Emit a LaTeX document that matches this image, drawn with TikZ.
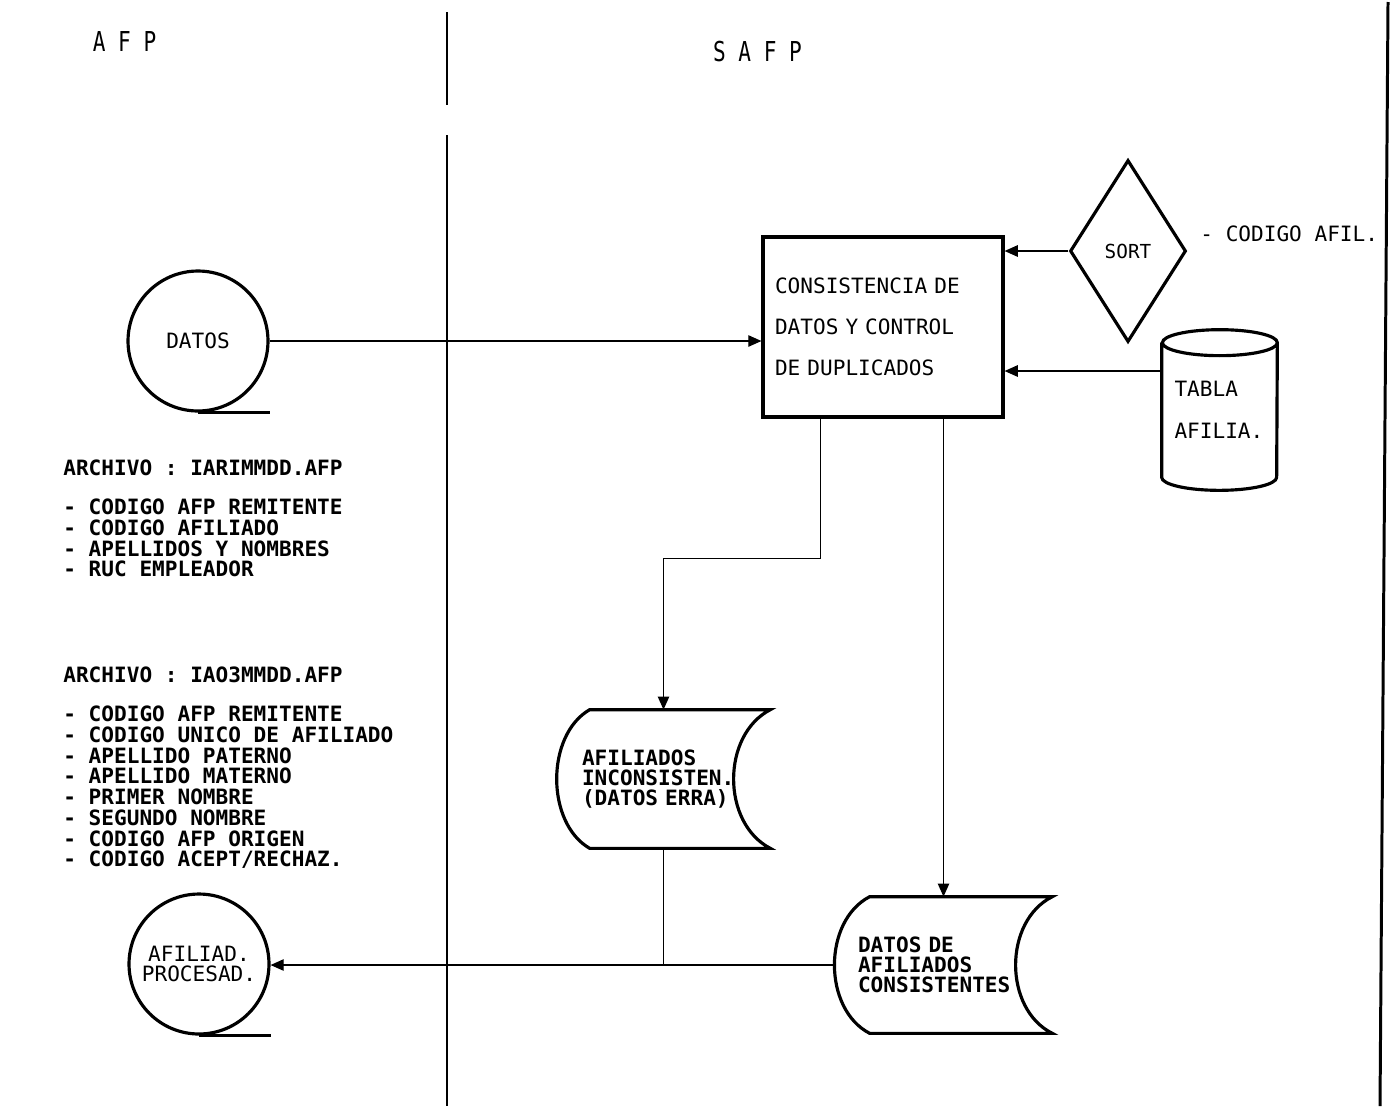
\documentclass[tikz,border=0pt]{standalone}
\usepackage{fontspec}
\usepackage{tikz}
\usetikzlibrary{shapes,arrows.meta,positioning}
\newfontfamily\plotfont{DejaVu Sans Mono}

\begin{document}
\begin{tikzpicture}[x=0.02cm, y=-0.02cm,
                   every node/.style={font=\plotfont\fontsize{12}{11.8}\selectfont, inner sep=0pt},
                   outline/.style={line width=1.8pt},
                   wire/.style={line width=0.8pt},
                   flow/.style={wire, -{Triangle[length=7.5pt,width=6.5pt]}},
                   tape/.style={circle, draw, outline, minimum size=2.8cm, align=center},
                   proc/.style={rectangle, draw, outline, minimum width=4.8cm, minimum height=3.6cm,
                                inner xsep=0.24cm, text width=4.32cm, align=left,
                                font=\plotfont\fontsize{12}{23.2}\selectfont},
                   doc/.style={rectangle, align=left, font=\plotfont\bfseries\fontsize{12}{11.3}\selectfont},
                   list/.style={anchor=north west, align=left, font=\plotfont\bfseries\fontsize{12}{11.8}\selectfont},
                   head/.style={font=\plotfont\fontsize{12}{14}\selectfont}]
  \useasboundingbox (0,0) rectangle (1391,1106);

  \node[head] at (124.5,42) {\scalebox{1}[1.3]{A F P}};
  \node[head] at (757.5,52) {\scalebox{1}[1.3]{S A F P}};
  \draw[line width=1.1pt] (447,12) -- (447,105) (447,135) -- (447,1106);
  \draw[line width=1.7pt] (1388,2) -- (1380,1106);

  \node[tape] (datos) at (198,341) {DATOS};
  \node[tape, font=\plotfont\fontsize{12}{11.4}\selectfont] (procesad) at (199,964) {AFILIAD.\\PROCESAD.};
  \draw[outline] (datos.south) -- (datos.south -| datos.east);
  \draw[outline] (procesad.south) -- (procesad.south -| procesad.east);

  \node[list] (arch1) at (63,459)
    {ARCHIVO : IARIMMDD.AFP\\[10.8pt]
     - CODIGO AFP REMITENTE\\
     - CODIGO AFILIADO\\
     - APELLIDOS Y NOMBRES\\
     - RUC EMPLEADOR};
  \node[list] (arch2) at (63,666)
    {ARCHIVO : IAO3MMDD.AFP\\[10.8pt]
     - CODIGO AFP REMITENTE\\
     - CODIGO UNICO DE AFILIADO\\
     - APELLIDO PATERNO\\
     - APELLIDO MATERNO\\
     - PRIMER NOMBRE\\
     - SEGUNDO NOMBRE\\
     - CODIGO AFP ORIGEN\\
     - CODIGO ACEPT/RECHAZ.};

  \node[proc] (consist) at (883,327) {CONSISTENCIA DE\\DATOS Y CONTROL\\DE DUPLICADOS};
  \node[diamond, draw, outline, minimum width=2.32cm, minimum height=3.64cm, aspect=0.64,
        font=\plotfont\fontsize{11}{12}\selectfont] (sort) at (1128,251) {SORT};
  \node[anchor=west] (codafil) at (1200,234) {- CODIGO AFIL.};

  \node[rectangle, minimum width=2.3cm, minimum height=3.2cm, inner xsep=0.25cm, text width=1.8cm,
        align=left, font=\plotfont\fontsize{12}{23.8}\selectfont] (tabla) at (1219.5,410) {TABLA\\AFILIA.};
  \draw[outline] ([yshift=-0.26cm]tabla.north west) -- ([yshift=0.26cm]tabla.south west)
    arc[start angle=180, end angle=360, x radius=1.15cm, y radius=0.26cm]
    -- ([yshift=-0.26cm]tabla.north east)
    arc[start angle=0, end angle=360, x radius=1.15cm, y radius=0.26cm];

  \node[doc, minimum height=2.76cm, inner xsep=0.5cm, text width=3.26cm] (inc) at (663.5,779)
    {AFILIADOS\\INCONSISTEN.\\(DATOS ERRA)};
  \draw[outline] ([xshift=0.66cm]inc.north west) -- (inc.north east)
    .. controls ([shift={(-0.98cm,0.88cm)}]inc.east) and ([shift={(-0.98cm,-0.88cm)}]inc.east) .. (inc.south east)
    -- ([xshift=0.66cm]inc.south west)
    .. controls ([shift={(-0.22cm,-0.88cm)}]inc.west) and ([shift={(-0.22cm,0.88cm)}]inc.west) .. ([xshift=0.66cm]inc.north west)
    -- cycle;

  \node[doc, minimum height=2.72cm, inner xsep=0.46cm, text width=3.42cm] (consis) at (943.5,965)
    {DATOS DE\\AFILIADOS\\CONSISTENTES};
  \draw[outline] ([xshift=0.7cm]consis.north west) -- (consis.north east)
    .. controls ([shift={(-0.98cm,0.88cm)}]consis.east) and ([shift={(-0.98cm,-0.88cm)}]consis.east) .. (consis.south east)
    -- ([xshift=0.7cm]consis.south west)
    .. controls ([shift={(-0.24cm,-0.88cm)}]consis.west) and ([shift={(-0.24cm,0.88cm)}]consis.west) .. ([xshift=0.7cm]consis.north west)
    -- cycle;

  \coordinate (tin) at ([yshift=0.78cm]tabla.west);
  \draw[flow] (datos.east) -- (datos.east -| consist.west);
  \draw[flow] (sort.west) -- (sort.west -| consist.east);
  \draw[flow] (tin) -- (tin -| consist.east);
  \draw[flow] (consist.south west) ++(59,0) -- ++(0,140) -| (inc.north);
  \draw[flow] (consist.south -| consis.north) -- (consis.north);
  \draw[wire] (inc.south) -- (inc.south |- consis.west);
  \draw[flow] (consis.west) -- (consis.west -| procesad.east);
\end{tikzpicture}
\end{document}
